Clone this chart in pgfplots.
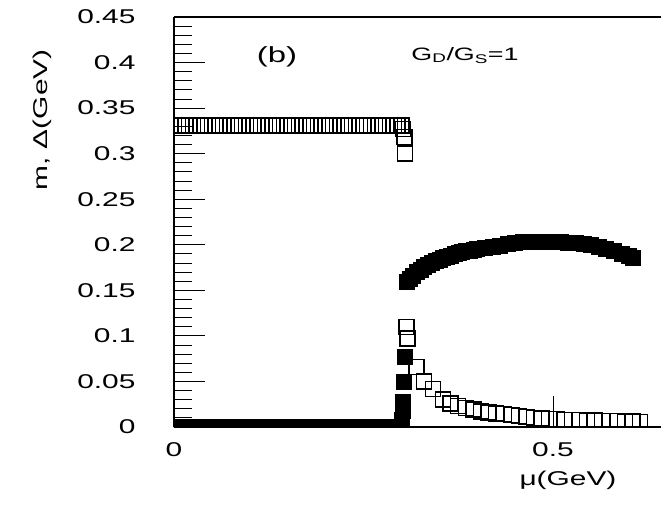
\documentclass[border=0pt]{standalone}
\usepackage{fontspec}
\setmainfont{Liberation Sans}[FakeStretch=1.5]
\usepackage{pgfplots}
\pgfplotsset{compat=1.18}
\begin{document}
\begin{tikzpicture}
\begin{axis}[
  scale only axis, width=487bp, height=410bp,
  xmin=0, xmax=0.6425, ymin=0, ymax=0.45,
  axis lines=left, axis line style={-, line width=1.2bp},
  tick align=inside,
  xtick={0,0.5}, xticklabels={0,0.5},
  ytick={0,0.05,0.1,0.15,0.2,0.25,0.3,0.35,0.4,0.45},
  yticklabels={0,0.05,0.1,0.15,0.2,0.25,0.3,0.35,0.4,0.45},
  minor y tick num=4,
  major tick length=31bp, minor tick length=18bp,
  every tick/.style={black, line width=0.9bp},
  tick label style={font=\fontsize{20}{24}\selectfont},
  y tick label style={anchor=east, xshift=-35bp},
  x tick label style={anchor=north, yshift=-12bp},
  label style={font=\fontsize{20}{24}\selectfont},
  ylabel={m, Δ(GeV)},
  ylabel style={at={(axis description cs:-0.271,0.749)}, anchor=center},
  xlabel={μ(GeV)},
  xlabel style={at={(axis description cs:0.809,-0.129)}, anchor=center},
  clip marker paths=true,
]
% m (open squares)
\addplot[only marks, mark=square, mark size=7.5bp, mark options={line width=1.4bp, draw=black, fill=none}] coordinates {
(0,0.331)(0.005,0.331)(0.01,0.331)(0.015,0.331)(0.02,0.331)(0.025,0.331)(0.03,0.331)(0.035,0.331)(0.04,0.331)(0.045,0.331)
(0.05,0.331)(0.055,0.331)(0.06,0.331)(0.065,0.331)(0.07,0.331)(0.075,0.331)(0.08,0.331)(0.085,0.331)(0.09,0.331)(0.095,0.331)
(0.1,0.331)(0.105,0.331)(0.11,0.331)(0.115,0.331)(0.12,0.331)(0.125,0.331)(0.13,0.331)(0.135,0.331)(0.14,0.331)(0.145,0.331)
(0.15,0.331)(0.155,0.331)(0.16,0.331)(0.165,0.331)(0.17,0.331)(0.175,0.331)(0.18,0.331)(0.185,0.331)(0.19,0.331)(0.195,0.331)
(0.2,0.331)(0.205,0.331)(0.21,0.331)(0.215,0.331)(0.22,0.331)(0.225,0.331)(0.23,0.331)(0.235,0.331)(0.24,0.331)(0.245,0.331)
(0.25,0.331)(0.255,0.331)(0.26,0.331)(0.265,0.331)(0.27,0.331)(0.275,0.331)(0.28,0.331)(0.285,0.331)(0.29,0.331)(0.295,0.331)
(0.3,0.331)(0.302,0.327)(0.304,0.318)(0.305,0.300)
(0.307,0.110)(0.308,0.097)(0.320,0.066)(0.330,0.050)(0.342,0.042)(0.355,0.030)(0.365,0.026)
(0.375,0.023)(0.385,0.021)(0.395,0.019)(0.405,0.017)(0.415,0.016)(0.425,0.015)(0.435,0.014)
(0.445,0.013)(0.455,0.012)(0.465,0.011)(0.475,0.010)(0.485,0.0095)(0.495,0.009)(0.505,0.0085)
(0.515,0.008)(0.525,0.0078)(0.535,0.0075)(0.545,0.0072)(0.555,0.007)(0.565,0.0068)(0.575,0.0066)
(0.585,0.0064)(0.595,0.0062)(0.605,0.006)(0.615,0.0058)
};
% Delta (filled squares)
\addplot[only marks, mark=square*, mark size=7.5bp, mark options={draw=black, fill=black}] coordinates {
(0,0)(0.01,0)(0.02,0)(0.03,0)(0.04,0)(0.05,0)(0.06,0)(0.07,0)(0.08,0)(0.09,0)
(0.1,0)(0.11,0)(0.12,0)(0.13,0)(0.14,0)(0.15,0)(0.16,0)(0.17,0)(0.18,0)(0.19,0)
(0.2,0)(0.21,0)(0.22,0)(0.23,0)(0.24,0)(0.25,0)(0.26,0)(0.27,0)(0.28,0)(0.29,0)(0.3,0)
(0.301,0.008)(0.3015,0.018)(0.302,0.028)(0.303,0.050)(0.304,0.077)
(0.307,0.160)(0.311,0.163)(0.315,0.166)(0.32,0.170)(0.325,0.173)(0.33,0.176)(0.335,0.178)
(0.34,0.180)(0.345,0.182)(0.35,0.184)(0.355,0.1855)(0.36,0.187)(0.365,0.1885)(0.37,0.190)(0.375,0.191)(0.38,0.192)
(0.385,0.193)(0.39,0.194)(0.395,0.195)(0.40,0.196)(0.41,0.197)(0.42,0.198)(0.43,0.199)(0.44,0.201)(0.45,0.202)
(0.46,0.203)(0.47,0.203)(0.48,0.203)(0.49,0.203)(0.50,0.203)(0.51,0.203)(0.52,0.202)(0.53,0.202)
(0.54,0.201)(0.55,0.200)(0.56,0.198)(0.57,0.196)(0.58,0.193)(0.59,0.190)(0.60,0.188)(0.605,0.186)
};
\node[font=\fontsize{22}{26}\selectfont] at (axis cs:0.136,0.406) {(b)};
\node[font=\fontsize{18}{22}\selectfont] at (axis cs:0.384,0.408) {G\textsubscript{D}/G\textsubscript{S}=1};
\draw[line width=1.2bp] (rel axis cs:0,1) -- (rel axis cs:1,1);
\coordinate (O) at (rel axis cs:0,0);
\end{axis}
\pgfresetboundingbox
\path[use as bounding box] (O) ++(-174bp,-79bp) rectangle ++(661bp,506bp);
\end{tikzpicture}
\end{document}
